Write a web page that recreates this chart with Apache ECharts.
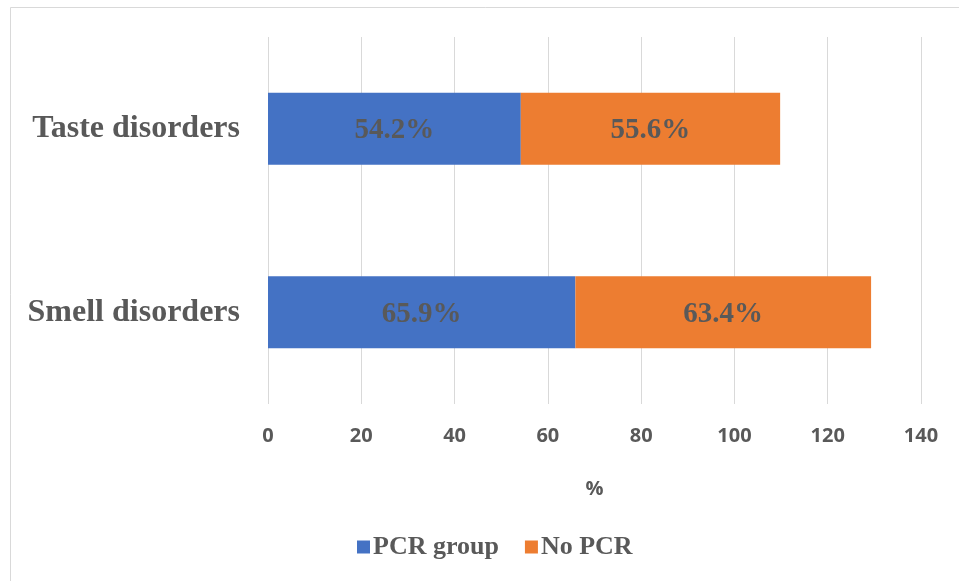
<!DOCTYPE html>
<html>
<head>
<meta charset="utf-8">
<script src="https://cdn.jsdelivr.net/npm/echarts@6/dist/echarts.min.js"></script>
<style>
html,body{margin:0;padding:0;background:#fff;}
#chart{width:959px;height:581px;}
</style>
</head>
<body>
<div id="chart"></div>
<script>
var categories = ['Smell disorders', 'Taste disorders'];
var pcrGroup = [65.9, 54.2];
var noPcr = [63.4, 55.6];
var seriesNames = ['PCR group', 'No PCR'];
var xTicks = [0, 20, 40, 60, 80, 100, 120, 140];

var serif = '"Liberation Serif", "Times New Roman", serif';
var sans = '"Open Sans", "Liberation Sans", sans-serif';
var txt = '#595959';

var chart = echarts.init(document.getElementById('chart'), null, {renderer: 'canvas'});
function pctLabel(p) { return p.value.toFixed(1) + '%'; }
chart.setOption({
  animation: false,
  backgroundColor: '#fff',
  graphic: [{
    type: 'rect',
    shape: {x: 10.5, y: 7.5, width: 1200, height: 1200},
    style: {fill: 'none', stroke: '#d9d9d9', lineWidth: 1},
    silent: true
  }],
  grid: {left: 268, right: 38, top: 37, bottom: 177, containLabel: false},
  legend: {
    data: seriesNames,
    left: 352,
    top: 529,
    icon: 'rect',
    itemWidth: 13,
    itemHeight: 13,
    itemGap: 26,
    textStyle: {fontFamily: serif, fontWeight: 'bold', fontSize: 26, color: txt, padding: [0, 0, 0, -2]}
  },
  xAxis: {
    type: 'value',
    min: xTicks[0],
    max: xTicks[xTicks.length - 1],
    interval: 20,
    name: '%',
    nameLocation: 'middle',
    nameGap: 75,
    nameTextStyle: {fontFamily: sans, fontWeight: 'bold', fontSize: 20, color: txt},
    axisLine: {show: false},
    axisTick: {show: false},
    axisLabel: {fontFamily: sans, fontWeight: 'bold', fontSize: 20, color: txt, margin: 22},
    splitLine: {show: true, lineStyle: {color: '#d9d9d9', width: 1}}
  },
  yAxis: {
    type: 'category',
    data: categories,
    axisLine: {show: false},
    axisTick: {show: false},
    axisLabel: {fontFamily: serif, fontWeight: 'bold', fontSize: 32, color: txt, margin: 28, padding: [6, 0, 0, 0]}
  },
  series: [{
    name: seriesNames[0],
    type: 'bar',
    stack: 'total',
    data: pcrGroup,
    barWidth: 72,
    itemStyle: {color: '#4472C4'},
    label: {show: true, position: 'inside', formatter: pctLabel, fontFamily: serif, fontWeight: 'bold', fontSize: 29, color: txt, offset: [0, 2]}
  }, {
    name: seriesNames[1],
    type: 'bar',
    stack: 'total',
    data: noPcr,
    barWidth: 72,
    itemStyle: {color: '#ED7D31'},
    label: {show: true, position: 'inside', formatter: pctLabel, fontFamily: serif, fontWeight: 'bold', fontSize: 29, color: txt, offset: [0, 2]}
  }]
});
</script>
</body>
</html>
